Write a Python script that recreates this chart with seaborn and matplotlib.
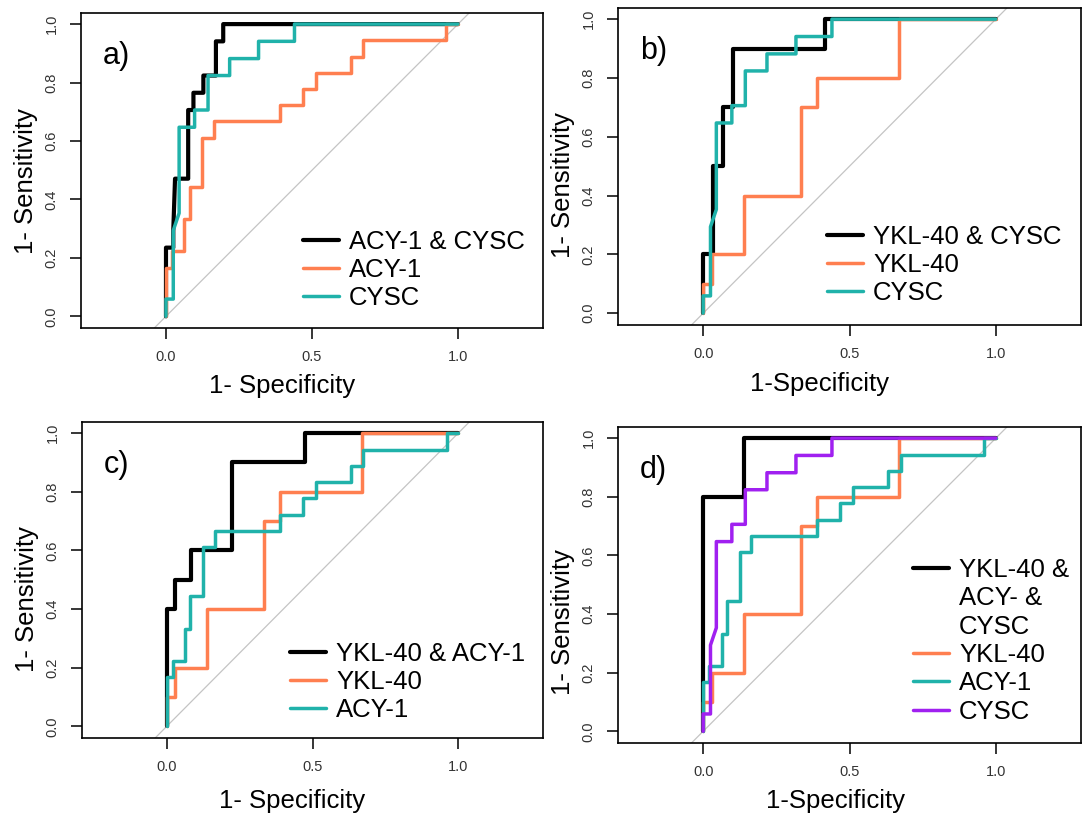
import matplotlib
matplotlib.use("Agg")
import matplotlib.pyplot as plt
from matplotlib.lines import Line2D
import seaborn as sns

# ROC points (1 - specificity, sensitivity)
acy1_fpr = [0, 0, 0.021, 0.021, 0.063, 0.063, 0.081, 0.081, 0.125, 0.125, 0.164, 0.164,
            0.389, 0.389, 0.468, 0.468, 0.513, 0.513, 0.632, 0.632, 0.675, 0.675, 0.96, 0.96, 1.0]
acy1_tpr = [0, 0.167, 0.167, 0.222, 0.222, 0.333, 0.333, 0.444, 0.444, 0.611, 0.611, 0.667,
            0.667, 0.722, 0.722, 0.778, 0.778, 0.833, 0.833, 0.889, 0.889, 0.944, 0.944, 1.0, 1.0]

cysc_fpr = [0, 0, 0.025, 0.025, 0.045, 0.045, 0.098, 0.098, 0.144, 0.144, 0.218, 0.218,
            0.317, 0.317, 0.44, 0.44, 1.0]
cysc_tpr = [0, 0.059, 0.059, 0.294, 0.353, 0.647, 0.647, 0.706, 0.706, 0.824, 0.824, 0.882,
            0.882, 0.941, 0.941, 1.0, 1.0]

ykl40_fpr = [0, 0, 0.029, 0.029, 0.138, 0.138, 0.334, 0.334, 0.389, 0.389, 0.669, 0.669, 1.0]
ykl40_tpr = [0, 0.1, 0.1, 0.2, 0.2, 0.4, 0.4, 0.7, 0.7, 0.8, 0.8, 1.0, 1.0]

acy1_cysc_fpr = [0, 0, 0.025, 0.025, 0.031, 0.076, 0.076, 0.094, 0.094, 0.128, 0.128,
                 0.171, 0.171, 0.196, 0.196, 1.0]
acy1_cysc_tpr = [0, 0.235, 0.235, 0.294, 0.471, 0.471, 0.706, 0.706, 0.765, 0.765, 0.824,
                 0.824, 0.941, 0.941, 1.0, 1.0]

ykl40_cysc_fpr = [0, 0, 0.032, 0.032, 0.069, 0.069, 0.103, 0.103, 0.417, 0.417, 1.0]
ykl40_cysc_tpr = [0, 0.2, 0.2, 0.5, 0.5, 0.7, 0.7, 0.9, 0.9, 1.0, 1.0]

ykl40_acy1_fpr = [0, 0, 0.029, 0.029, 0.084, 0.084, 0.223, 0.223, 0.473, 0.473, 1.0]
ykl40_acy1_tpr = [0, 0.4, 0.4, 0.5, 0.5, 0.6, 0.6, 0.9, 0.9, 1.0, 1.0]

all3_fpr = [0, 0, 0.139, 0.139, 1.0]
all3_tpr = [0, 0.8, 0.8, 1.0, 1.0]

x_ticks = [0, 0.5, 1.0]
x_ticklabels = ["0.0", "0.5", "1.0"]
y_ticks = [0, 0.2, 0.4, 0.6, 0.8, 1.0]
y_ticklabels = ["0.0", "0.2", "0.4", "0.6", "0.8", "1.0"]

BLACK = "black"
ORANGE = "#FF7F50"
TEAL = "#20B2AA"
PURPLE = "#A020F0"

sns.set_style("ticks")
plt.rcParams["font.family"] = ["Liberation Sans", "DejaVu Sans"]
plt.rcParams["text.color"] = "black"
plt.rcParams["axes.labelcolor"] = "black"

W, H = 1082, 816
fig = plt.figure(figsize=(W / 100, H / 100), dpi=100)


def box(left, top, right, bottom):
    return [left / W, 1 - bottom / H, (right - left) / W, (bottom - top) / H]


def draw_panel(rect, tag, curves, legend_labels, xlabel, xlab_pos, ylab_pos, leg_anchor):
    ax = fig.add_axes(rect)
    ax.axline((0, 0), (1, 1), color="#C4C4C4", lw=0.9, zorder=1)
    for fpr, tpr, color, lw in curves:
        sns.lineplot(x=fpr, y=tpr, color=color, lw=lw, sort=False, estimator=None, ax=ax,
                     zorder=2)
    ax.set_xlim(-0.291, 1.291)
    ax.set_ylim(-0.04, 1.038)
    ax.set_xticks(x_ticks)
    ax.set_xticklabels(x_ticklabels, fontsize=10.5)
    ax.set_yticks(y_ticks)
    ax.set_yticklabels(y_ticklabels, fontsize=10.5, rotation=90, va="center")
    ax.tick_params(axis="both", length=8, width=1.1, direction="out", pad=8, colors="black",
                   labelcolor="#333333")
    for s in ax.spines.values():
        s.set_linewidth(1.2)
        s.set_color("black")
    ax.set_xlabel(xlabel, fontsize=18.5)
    ax.set_ylabel("1- Sensitivity", fontsize=18.5)
    ax.xaxis.set_label_coords(*xlab_pos)
    ax.yaxis.set_label_coords(*ylab_pos)
    ax.text(0.048, 0.865, tag, transform=ax.transAxes, fontsize=22, va="center")

    handles = []
    for label, color, lw in legend_labels:
        handles.append(Line2D([], [], color=color, lw=lw, label=label))
    ax.legend(handles=handles, loc="center left", bbox_to_anchor=leg_anchor, frameon=False,
              fontsize=18.5, handlelength=1.4, handletextpad=0.4, labelspacing=0.17,
              borderpad=0, borderaxespad=0)
    return ax


draw_panel(box(81, 13, 543, 328), "a)",
           [(acy1_cysc_fpr, acy1_cysc_tpr, BLACK, 3.0),
            (acy1_fpr, acy1_tpr, ORANGE, 2.5),
            (cysc_fpr, cysc_tpr, TEAL, 2.5)],
           [("ACY-1 & CYSC", BLACK, 3.0), ("ACY-1", ORANGE, 2.5), ("CYSC", TEAL, 2.5)],
           "1- Specificity", (0.435, -0.146), (-0.093, 0.467), (0.48, 0.184))

draw_panel(box(618, 8, 1081, 325), "b)",
           [(ykl40_cysc_fpr, ykl40_cysc_tpr, BLACK, 3.0),
            (ykl40_fpr, ykl40_tpr, ORANGE, 2.5),
            (cysc_fpr, cysc_tpr, TEAL, 2.5)],
           [("YKL-40 & CYSC", BLACK, 3.0), ("YKL-40", ORANGE, 2.5), ("CYSC", TEAL, 2.5)],
           "1-Specificity", (0.436, -0.148), (-0.093, 0.44), (0.451, 0.189))

draw_panel(box(82, 422, 543, 738), "c)",
           [(ykl40_acy1_fpr, ykl40_acy1_tpr, BLACK, 3.0),
            (ykl40_fpr, ykl40_tpr, ORANGE, 2.5),
            (acy1_fpr, acy1_tpr, TEAL, 2.5)],
           [("YKL-40 & ACY-1", BLACK, 3.0), ("YKL-40", ORANGE, 2.5), ("ACY-1", TEAL, 2.5)],
           "1- Specificity", (0.455, -0.16), (-0.093, 0.44), (0.451, 0.177))

draw_panel(box(618, 427, 1081, 743), "d)",
           [(all3_fpr, all3_tpr, BLACK, 3.0),
            (ykl40_fpr, ykl40_tpr, ORANGE, 2.5),
            (acy1_fpr, acy1_tpr, TEAL, 2.5),
            (cysc_fpr, cysc_tpr, PURPLE, 2.5)],
           [("YKL-40 &", BLACK, 3.0), ("ACY- &", "none", 0), ("CYSC", "none", 0),
            ("YKL-40", ORANGE, 2.5), ("ACY-1", TEAL, 2.5), ("CYSC", PURPLE, 2.5)],
           "1-Specificity", (0.47, -0.146), (-0.093, 0.383), (0.637, 0.323))

fig.savefig("out.png", dpi=100)
